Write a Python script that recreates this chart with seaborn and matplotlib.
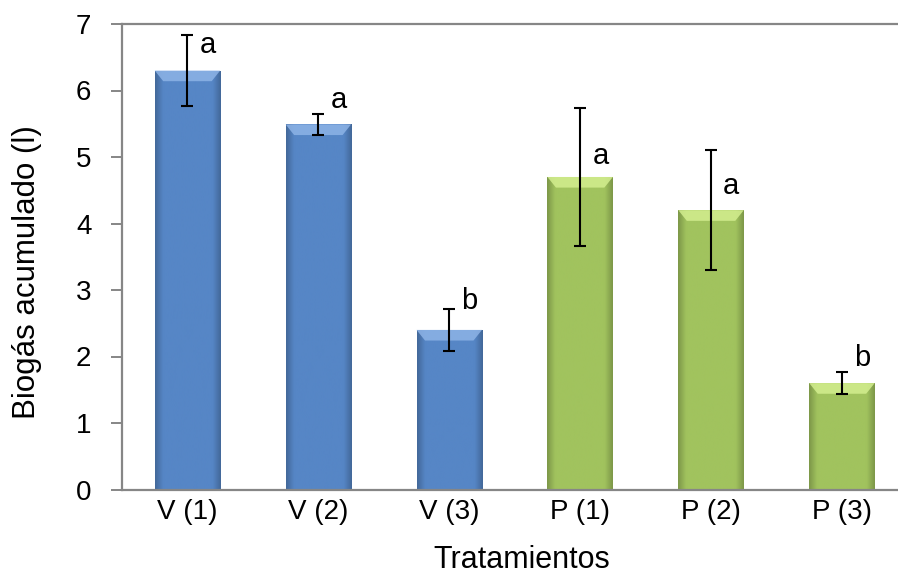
import matplotlib
matplotlib.use("Agg")
import matplotlib.pyplot as plt
import matplotlib.colors as mcolors
from matplotlib.patches import Polygon
import seaborn as sns
import numpy as np
import pandas as pd

categories = ["V (1)", "V (2)", "V (3)", "P (1)", "P (2)", "P (3)"]
biogas = [6.30, 5.49, 2.40, 4.70, 4.20, 1.60]
err = [0.53, 0.16, 0.31, 1.04, 0.90, 0.16]
letters = ["a", "a", "b", "a", "a", "b"]
groups = ["V", "V", "V", "P", "P", "P"]
yticks = [0, 1, 2, 3, 4, 5, 6, 7]

# baseline heights (data units) of the significance letters
label_y = [6.56, 5.73, 2.72, 4.89, 4.44, 1.86]

sns.set_theme(style="white")
plt.rcParams['font.family'] = ['Liberation Sans', 'DejaVu Sans']
plt.rcParams['text.color'] = 'black'

df = pd.DataFrame({"cat": categories, "val": biogas, "grp": groups})
base = {"V": "#5686C6", "P": "#A1C35E"}
top_light = {"V": "#8DB3E6", "P": "#D3EE8F"}

fig = plt.figure(figsize=(8.98, 5.74), dpi=100)
ax = fig.add_axes([122/898, 1-489.5/574, (907.4-122)/898, (489.5-24)/574])

sns.barplot(data=df, x="cat", y="val", hue="grp", palette=base, width=0.5,
            dodge=False, legend=False, ax=ax, saturation=1,
            edgecolor="none")

ax.set_ylim(0, 7)
ax.set_xlim(-0.5, 5.5)

# bevel-like shading on each bar (horizontal gradient clipped to the bar + light top strip)
for p, g in zip(list(ax.patches), groups):
    x0, y0 = p.get_x(), p.get_y()
    w, h = p.get_width(), p.get_height()
    c = np.array(mcolors.to_rgb(base[g]))
    dark = c * 0.78
    t = np.linspace(0, 1, 64)
    prof = np.clip(np.minimum(t, 1 - t) / 0.12, 0, 1)
    grad = dark[None, :] * (1 - prof[:, None]) + c[None, :] * prof[:, None]
    img = ax.imshow(grad[None, :, :], extent=[x0, x0 + w, y0, y0 + h],
                    aspect="auto", zorder=2, interpolation="bicubic")
    img.set_clip_path(p)
    dx, dy = 0.065, 0.16
    poly = Polygon([[x0, y0 + h], [x0 + w, y0 + h], [x0 + w - dx, y0 + h - dy],
                    [x0 + dx, y0 + h - dy]], closed=True,
                   facecolor=top_light[g], edgecolor="none", alpha=0.85, zorder=3)
    ax.add_patch(poly)
    p.set_visible(False)

ax.errorbar(np.arange(len(categories)), biogas, yerr=err, fmt="none",
            ecolor="black", elinewidth=1.5, capsize=4.5, capthick=1.5, zorder=5)

for i, (t, ly) in enumerate(zip(letters, label_y)):
    ax.text(i + 0.155, ly, t, fontsize=21, ha="center", va="baseline", color="black", zorder=6)

ax.set_yticks(yticks)
ax.set_yticklabels([str(v) for v in yticks], fontsize=20, color="black")
ax.set_xticks(range(len(categories)))
ax.set_xticklabels(categories, fontsize=20, color="black")
ax.tick_params(axis="x", length=0, pad=7)
ax.tick_params(axis="y", length=8, width=1.4, color="#868686", left=True, pad=14)

for s in ["left", "bottom", "top"]:
    ax.spines[s].set_color("#868686")
    ax.spines[s].set_linewidth(1.6)
ax.spines["right"].set_visible(False)

ax.set_xlabel("Tratamientos", fontsize=22, color="black")
ax.set_ylabel("Biogás acumulado (l)", fontsize=22.5, color="black")
ax.xaxis.label.set_va("center")
ax.yaxis.label.set_va("center")
ax.xaxis.set_label_coords((522 - 122) / 785.4, (489.5 - 560) / 465.5)
ax.yaxis.set_label_coords((27 - 122) / 785.4, (489.5 - 272) / 465.5)

fig.savefig("out.png", dpi=100)
